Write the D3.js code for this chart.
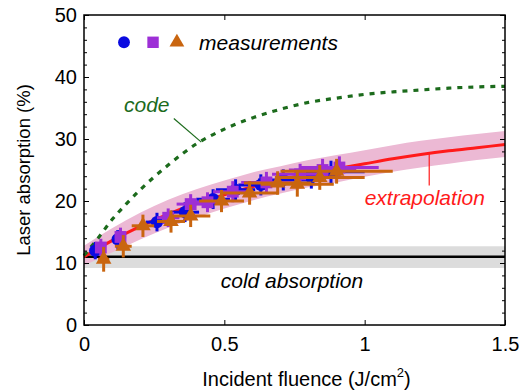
<!DOCTYPE html>
<html>
<head>
<meta charset="utf-8">
<script src="https://cdn.jsdelivr.net/npm/d3@7"></script>
<style>
  body { margin: 0; background: #fff; }
  text { font-family: "Liberation Sans", Arial, Helvetica, sans-serif; }
</style>
</head>
<body>
<div id="chart"></div>
<script>
// curve grid (J/cm2)
const curveX = [0, 0.1, 0.2, 0.3, 0.4, 0.5, 0.6, 0.7, 0.8, 0.9, 1.0, 1.1, 1.2, 1.3, 1.4, 1.5];
const extrapY = [11.0, 13.6, 15.9, 17.9, 19.6, 21.0, 22.3, 23.4, 24.4, 25.2, 26.0, 26.8, 27.5, 28.1, 28.6, 29.1];
const bandHi = [12.8, 15.6, 18.1, 20.2, 21.9, 23.3, 24.6, 25.6, 26.6, 27.4, 28.2, 29.0, 29.7, 30.3, 30.8, 31.3];
const bandLo = [9.6, 11.7, 13.8, 15.7, 17.3, 18.8, 20.1, 21.2, 22.2, 23.0, 23.9, 24.7, 25.4, 26.0, 26.6, 27.1];

const codeX = [0, 0.05, 0.1, 0.15, 0.2, 0.3, 0.4, 0.5, 0.6, 0.7, 0.8, 0.9, 1.0, 1.1, 1.2, 1.3, 1.4, 1.5];
const codeY = [11.2, 14.0, 17.0, 19.5, 21.8, 25.8, 29.2, 31.6, 33.4, 34.8, 35.9, 36.6, 37.2, 37.6, 37.9, 38.2, 38.4, 38.5];

const coldValue = 11.0;
const coldLo = 9.2;
const coldHi = 12.7;

// measurements
const blueX = [0.04, 0.12, 0.26, 0.36, 0.46, 0.54, 0.63, 0.71, 0.81, 0.88];
const blueY = [12.0, 13.8, 16.6, 18.2, 20.3, 21.8, 22.6, 23.4, 23.8, 24.7];
const blueXErr = [0.01, 0.02, 0.04, 0.05, 0.06, 0.07, 0.08, 0.09, 0.10, 0.12];
const blueYErr = [1.4, 1.5, 1.5, 1.6, 1.6, 1.7, 1.7, 1.7, 1.8, 1.8];

const purpleX = [0.06, 0.13, 0.30, 0.38, 0.44, 0.53, 0.65, 0.77, 0.85, 0.91];
const purpleY = [12.5, 14.2, 17.3, 19.5, 19.8, 21.5, 23.0, 24.3, 25.0, 25.4];
const purpleXErr = [0.01, 0.02, 0.04, 0.05, 0.06, 0.07, 0.09, 0.10, 0.12, 0.14];
const purpleYErr = [1.4, 1.5, 1.5, 1.6, 1.6, 1.7, 1.7, 1.7, 1.8, 1.8];

const orangeX = [0.07, 0.14, 0.21, 0.31, 0.38, 0.49, 0.59, 0.69, 0.76, 0.84, 0.90];
const orangeY = [10.6, 12.7, 16.0, 16.7, 17.6, 20.0, 21.3, 22.9, 22.7, 23.8, 24.8];
const orangeXErr = [0.02, 0.03, 0.04, 0.05, 0.07, 0.08, 0.10, 0.12, 0.13, 0.16, 0.20];
const orangeYErr = [2.0, 1.8, 1.8, 1.8, 1.8, 1.8, 1.9, 1.9, 2.0, 2.0, 2.0];

const xTicks = [0, 0.5, 1, 1.5];
const xTickLabels = ["0", "0.5", "1", "1.5"];
const yTicks = [0, 10, 20, 30, 40, 50];

const W = 521, H = 392;
const margin = { top: 15, right: 16, bottom: 67, left: 84 };

const svg = d3.select("#chart").append("svg")
  .attr("width", W).attr("height", H);

const x = d3.scaleLinear().domain([0, 1.5]).range([margin.left, W - margin.right]);
const y = d3.scaleLinear().domain([0, 50]).range([H - margin.bottom, margin.top]);

const x0 = x.range()[0], x1 = x.range()[1];
const y0 = y.range()[0], y1 = y.range()[1];

// cold absorption band
svg.append("rect")
  .attr("x", x0).attr("width", x1 - x0)
  .attr("y", y(coldHi)).attr("height", y(coldLo) - y(coldHi))
  .attr("fill", "#dcdcdc");

// extrapolation uncertainty band
const band = curveX.map((v, i) => ({ x: v, lo: bandLo[i], hi: bandHi[i] }));
svg.append("path")
  .datum(band)
  .attr("fill", "#ecb9d4")
  .attr("d", d3.area().x(d => x(d.x)).y0(d => y(d.lo)).y1(d => y(d.hi)).curve(d3.curveMonotoneX));

svg.append("line")
  .attr("x1", x0).attr("x2", x1)
  .attr("y1", y(coldValue)).attr("y2", y(coldValue))
  .attr("stroke", "#000").attr("stroke-width", 2.5);

// extrapolation curve
svg.append("path")
  .datum(curveX.map((v, i) => [v, extrapY[i]]))
  .attr("fill", "none")
  .attr("stroke", "#ff1a1a")
  .attr("stroke-width", 3)
  .attr("d", d3.line().x(d => x(d[0])).y(d => y(d[1])).curve(d3.curveMonotoneX));

// code curve
svg.append("path")
  .datum(codeX.map((v, i) => [v, codeY[i]]))
  .attr("fill", "none")
  .attr("stroke", "#1c6b1c")
  .attr("stroke-width", 3.2)
  .attr("stroke-dasharray", "5,6")
  .attr("d", d3.line().x(d => x(d[0])).y(d => y(d[1])).curve(d3.curveMonotoneX));

// measurement series
function drawSeries(xs, ys, xe, ye, color, shape, size) {
  const data = xs.map((v, i) => ({ x: v, y: ys[i], xe: xe[i], ye: ye[i] }));
  const g = svg.append("g");
  g.selectAll(".hbar").data(data).enter().append("line")
    .attr("x1", d => x(d.x - d.xe)).attr("x2", d => x(d.x + d.xe))
    .attr("y1", d => y(d.y)).attr("y2", d => y(d.y))
    .attr("stroke", color).attr("stroke-width", 3);
  g.selectAll(".vbar").data(data).enter().append("line")
    .attr("x1", d => x(d.x)).attr("x2", d => x(d.x))
    .attr("y1", d => y(d.y - d.ye)).attr("y2", d => y(d.y + d.ye))
    .attr("stroke", color).attr("stroke-width", 3);
  g.selectAll(".mark").data(data).enter().append("path")
    .attr("transform", d => `translate(${x(d.x)},${y(d.y)})`)
    .attr("d", d3.symbol().type(shape).size(size))
    .attr("fill", color);
}

const blue = "#0a0ae0", purple = "#9d2fd6", orange = "#c9650f";
drawSeries(blueX, blueY, blueXErr, blueYErr, blue, d3.symbolCircle, 120);
drawSeries(purpleX, purpleY, purpleXErr, purpleYErr, purple, d3.symbolSquare, 140);
drawSeries(orangeX, orangeY, orangeXErr, orangeYErr, orange, d3.symbolTriangle, 105);

// frame + ticks
const axisStyle = g => {
  g.select(".domain").remove();
  g.selectAll("line").attr("stroke", "#000").attr("stroke-width", 1);
};
const minorY = d3.range(0, 51, 2).filter(v => v % 10 !== 0);

svg.append("g").attr("transform", `translate(${x0},0)`)
  .call(d3.axisLeft(y).tickValues(yTicks).tickSize(-5).tickPadding(7).tickFormat(d3.format("d")))
  .call(axisStyle)
  .call(g => g.selectAll("text").attr("font-size", 20).attr("fill", "#000")
    .style("font-family", "Liberation Sans, Arial, sans-serif"));
svg.append("g").attr("transform", `translate(${x0},0)`)
  .call(d3.axisLeft(y).tickValues(minorY).tickSize(-3).tickFormat(""))
  .call(axisStyle);
svg.append("g").attr("transform", `translate(${x1},0)`)
  .call(d3.axisRight(y).tickValues(yTicks).tickSize(-5).tickFormat(""))
  .call(axisStyle);
svg.append("g").attr("transform", `translate(${x1},0)`)
  .call(d3.axisRight(y).tickValues(minorY).tickSize(-3).tickFormat(""))
  .call(axisStyle);

svg.append("g").attr("transform", `translate(0,${y0})`)
  .call(d3.axisBottom(x).tickValues(xTicks).tickSize(-5).tickPadding(12)
    .tickFormat((d, i) => xTickLabels[i]))
  .call(axisStyle)
  .call(g => g.selectAll("text").attr("font-size", 20).attr("fill", "#000")
    .style("font-family", "Liberation Sans, Arial, sans-serif"));
svg.append("g").attr("transform", `translate(0,${y1})`)
  .call(d3.axisTop(x).tickValues(xTicks).tickSize(-5).tickFormat(""))
  .call(axisStyle);

svg.append("rect")
  .attr("x", x0).attr("y", y1).attr("width", x1 - x0).attr("height", y0 - y1)
  .attr("fill", "none").attr("stroke", "#000").attr("stroke-width", 1.5);

// axis titles
const xt = svg.append("text")
  .attr("x", (x0 + x1) / 2 + 12).attr("y", 386)
  .attr("text-anchor", "middle").attr("font-size", 20);
xt.append("tspan").text("Incident fluence (J/cm");
xt.append("tspan").attr("dy", -9).attr("font-size", 13).text("2");
xt.append("tspan").attr("dy", 9).text(")");

svg.append("text")
  .attr("transform", `translate(30,${(y0 + y1) / 2}) rotate(-90)`)
  .attr("text-anchor", "middle").attr("font-size", 18.5)
  .text("Laser absorption (%)");

// annotations
svg.append("text").attr("x", x(0.1425)).attr("y", y(34.3))
  .attr("font-size", 21).attr("font-style", "italic").attr("fill", "#1c6b1c")
  .text("code");
svg.append("line")
  .attr("x1", x(0.32)).attr("y1", y(33.3)).attr("x2", x(0.418)).attr("y2", y(29.5))
  .attr("stroke", "#1c6b1c").attr("stroke-width", 1.2);

svg.append("text").attr("x", x(1.0)).attr("y", y(19.4))
  .attr("font-size", 21).attr("font-style", "italic").attr("fill", "#ff1a1a")
  .text("extrapolation");
svg.append("line")
  .attr("x1", x(1.23)).attr("y1", y(27.6)).attr("x2", x(1.23)).attr("y2", y(22.5))
  .attr("stroke", "#ff1a1a").attr("stroke-width", 1.2);

svg.append("text").attr("x", x(0.741)).attr("y", y(6.0))
  .attr("text-anchor", "middle")
  .attr("font-size", 21).attr("font-style", "italic").attr("fill", "#000")
  .text("cold absorption");

// legend
const legY = 45.6;
svg.append("path").attr("transform", `translate(${x(0.1425)},${y(legY)})`)
  .attr("d", d3.symbol().type(d3.symbolCircle).size(110)).attr("fill", blue);
svg.append("path").attr("transform", `translate(${x(0.246)},${y(legY)})`)
  .attr("d", d3.symbol().type(d3.symbolSquare).size(130)).attr("fill", purple);
svg.append("path").attr("transform", `translate(${x(0.331)},${y(legY)})`)
  .attr("d", d3.symbol().type(d3.symbolTriangle).size(95)).attr("fill", orange);
svg.append("text").attr("x", x(0.41)).attr("y", y(44.4))
  .attr("font-size", 21).attr("font-style", "italic").attr("fill", "#000")
  .text("measurements");
</script>
</body>
</html>
